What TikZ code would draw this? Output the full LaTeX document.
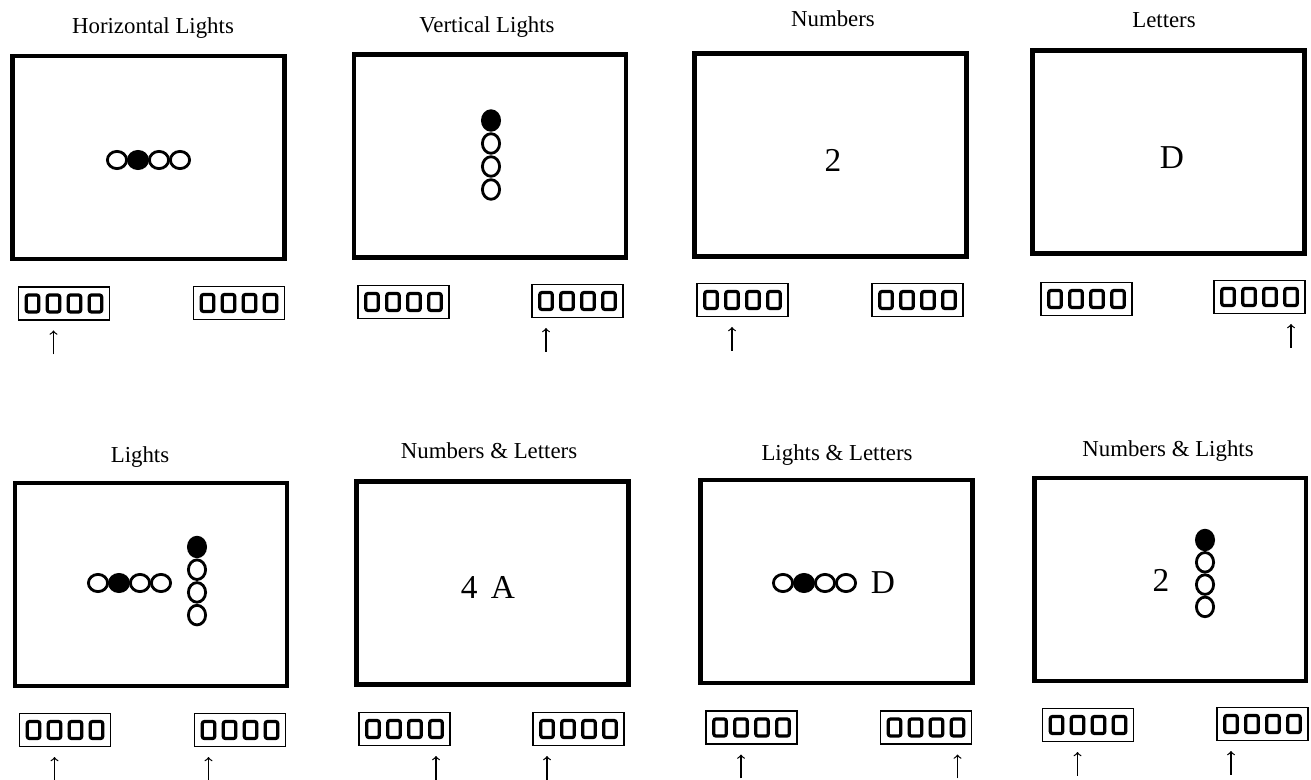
\documentclass[tikz,border=0pt]{standalone}
\usepackage{fontspec}
\setmainfont{Liberation Serif}
\begin{document}
\begin{tikzpicture}[x=0.02cm, y=-0.02cm,
    painel/.style={draw, line width=2.8pt, minimum width=5.44cm, minimum height=4.06cm, inner sep=0pt},
    titulo/.style={anchor=base, font=\fontsize{13}{15}\selectfont},
    grande/.style={font=\fontsize{19}{22}\selectfont, inner sep=0pt},
    caixa/.style={draw, line width=0.75pt, minimum width=1.82cm, minimum height=0.66cm, inner sep=0pt},
    tecla/.style={draw, line width=1.8pt, rounded corners=1.2pt, minimum width=0.25cm, minimum height=0.34cm, inner sep=0pt, outer sep=0pt},
    luz/.style={line width=1.6pt},
    acesa/.style={luz, fill=black},
    seta/.style={->, line width=0.7pt, shorten >=0.37cm}]

    \useasboundingbox (0,0) rectangle (1311,780);

    % --- Painel 1: Horizontal Lights ---
    \begin{scope}[shift={(148.5,157.5)}]
        \node[painel] (p1) at (0,0) {};
        \node[titulo] (tit1) at (4.5,-124.2) {Horizontal Lights};

        % Luzes horizontais
        \foreach \i in {0,2,3} \draw[luz] ({-31.5+21*\i},2.5) ellipse (9.6 and 8.6);
        \draw[acesa] (-10.5,2.5) ellipse (9.6 and 8.6);

        % Teclados
        \node[caixa] (c1e) at (-84.5,146) {};
        \foreach \k in {1,...,4} \node[tecla] (c1e\k) at ({-84.5+21*(\k-2.5)},146) {};
        \node[caixa] (c1d) at (90.5,145.5) {};
        \foreach \k in {1,...,4} \node[tecla] (c1d\k) at ({90.5+21*(\k-2.5)},145.5) {};

        % Seta
        \coordinate (s1e) at ([yshift=-1.02cm]c1e2);
        \draw[seta] (s1e) -- (c1e2);
    \end{scope}

    % --- Painel 2: Vertical Lights ---
    \begin{scope}[shift={(490,156)}]
        \node[painel] (p2) at (0,0) {};
        \node[titulo] (tit2) at (-3,-123.3) {Vertical Lights};

        % Luzes verticais
        \draw[acesa] (1,-35.5) ellipse (8.6 and 9.8);
        \foreach \i in {1,2,3} \draw[luz] (1,{-35.5+23*\i}) ellipse (8.6 and 9.8);

        % Teclados
        \node[caixa] (c2e) at (-86.5,146) {};
        \foreach \k in {1,...,4} \node[tecla] (c2e\k) at ({-86.5+21*(\k-2.5)},146) {};
        \node[caixa] (c2d) at (87.5,145) {};
        \foreach \k in {1,...,4} \node[tecla] (c2d\k) at ({87.5+21*(\k-2.5)},145) {};

        % Seta
        \coordinate (s2d) at ([yshift=-1.02cm]c2d1);
        \draw[seta] (s2d) -- (c2d1);
    \end{scope}

    % --- Painel 3: Numbers ---
    \begin{scope}[shift={(830.5,155)}]
        \node[painel] (p3) at (0,0) {};
        \node[titulo] (tit3) at (2.5,-128.3) {Numbers};
        \node[grande] (txt3) at (2.5,5) {2};

        % Teclados
        \node[caixa] (c3e) at (-88,145) {};
        \foreach \k in {1,...,4} \node[tecla] (c3e\k) at ({-88+21*(\k-2.5)},145) {};
        \node[caixa] (c3d) at (87,145) {};
        \foreach \k in {1,...,4} \node[tecla] (c3d\k) at ({87+21*(\k-2.5)},145) {};

        % Seta
        \coordinate (s3e) at ([yshift=-1.02cm]c3e2);
        \draw[seta] (s3e) -- (c3e2);
    \end{scope}

    % --- Painel 4: Letters ---
    \begin{scope}[shift={(1168.5,152)}]
        \node[painel] (p4) at (0,0) {};
        \node[titulo] (tit4) at (-4.5,-124.7) {Letters};
        \node[grande] (txt4) at (3.5,6) {D};

        % Teclados
        \node[caixa] (c4e) at (-82,147) {};
        \foreach \k in {1,...,4} \node[tecla] (c4e\k) at ({-82+21*(\k-2.5)},147) {};
        \node[caixa] (c4d) at (91,145) {};
        \foreach \k in {1,...,4} \node[tecla] (c4d\k) at ({91+21*(\k-2.5)},145) {};

        % Seta
        \coordinate (s4d) at ([yshift=-1.02cm]c4d4);
        \draw[seta] (s4d) -- (c4d4);
    \end{scope}

    % --- Painel 5: Lights ---
    \begin{scope}[shift={(151,584.5)}]
        \node[painel] (p5) at (0,0) {};
        \node[titulo] (tit5) at (-11,-121.8) {Lights};

        % Luzes horizontais e verticais
        \foreach \i in {0,2,3} \draw[luz] ({-53+21*\i},-1.5) ellipse (9.6 and 8.6);
        \draw[acesa] (-32,-1.5) ellipse (9.6 and 8.6);
        \draw[acesa] (46,-37.5) ellipse (8.6 and 9.8);
        \foreach \i in {1,2,3} \draw[luz] (46,{-37.5+22.7*\i}) ellipse (8.6 and 9.8);

        % Teclados
        \node[caixa] (c5e) at (-86,145.5) {};
        \foreach \k in {1,...,4} \node[tecla] (c5e\k) at ({-86+21*(\k-2.5)},145.5) {};
        \node[caixa] (c5d) at (89,145.5) {};
        \foreach \k in {1,...,4} \node[tecla] (c5d\k) at ({89+21*(\k-2.5)},145.5) {};

        % Setas
        \coordinate (s5e) at ([yshift=-1.02cm]c5e2);
        \draw[seta] (s5e) -- (c5e2);
        \coordinate (s5d) at ([yshift=-1.02cm]c5d1);
        \draw[seta] (s5d) -- (c5d1);
    \end{scope}

    % --- Painel 6: Numbers & Letters ---
    \begin{scope}[shift={(492.5,583)}]
        \node[painel] (p6) at (0,0) {};
        \node[titulo] (tit6) at (-3.5,-124.7) {Numbers \& Letters};
        \node[grande] (txt6) at (-4.5,4) {4\hspace{0.4em}A};

        % Teclados
        \node[caixa] (c6e) at (-88,146) {};
        \foreach \k in {1,...,4} \node[tecla] (c6e\k) at ({-88+21*(\k-2.5)},146) {};
        \node[caixa] (c6d) at (86,146) {};
        \foreach \k in {1,...,4} \node[tecla] (c6d\k) at ({86+21*(\k-2.5)},146) {};

        % Setas
        \coordinate (s6e) at ([yshift=-1.02cm]c6e4);
        \draw[seta] (s6e) -- (c6e4);
        \coordinate (s6d) at ([yshift=-1.02cm]c6d1);
        \draw[seta] (s6d) -- (c6d1);
    \end{scope}

    % --- Painel 7: Lights & Letters ---
    \begin{scope}[shift={(836.5,581.5)}]
        \node[painel] (p7) at (0,0) {};
        \node[titulo] (tit7) at (0.5,-121.5) {Lights \& Letters};
        \node[grande] (txt7) at (46.5,1.5) {D};

        % Luzes horizontais
        \foreach \i in {0,2,3} \draw[luz] ({-53.5+21*\i},1.5) ellipse (9.6 and 8.6);
        \draw[acesa] (-32.5,1.5) ellipse (9.6 and 8.6);

        % Teclados
        \node[caixa] (c7e) at (-85,146) {};
        \foreach \k in {1,...,4} \node[tecla] (c7e\k) at ({-85+21*(\k-2.5)},146) {};
        \node[caixa] (c7d) at (89.5,146) {};
        \foreach \k in {1,...,4} \node[tecla] (c7d\k) at ({89.5+21*(\k-2.5)},146) {};

        % Setas
        \coordinate (s7e) at ([yshift=-1.02cm]c7e2);
        \draw[seta] (s7e) -- (c7e2);
        \coordinate (s7d) at ([yshift=-1.02cm]c7d4);
        \draw[seta] (s7d) -- (c7d4);
    \end{scope}

    % --- Painel 8: Numbers & Lights ---
    \begin{scope}[shift={(1170,579.5)}]
        \node[painel] (p8) at (0,0) {};
        \node[titulo] (tit8) at (-2,-123.5) {Numbers \& Lights};
        \node[grande] (txt8) at (-9,0.5) {2};

        % Luzes verticais
        \draw[acesa] (35,-39.5) ellipse (8.6 and 9.8);
        \foreach \i in {1,2,3} \draw[luz] (35,{-39.5+22.3*\i}) ellipse (8.6 and 9.8);

        % Teclados
        \node[caixa] (c8e) at (-82,145.5) {};
        \foreach \k in {1,...,4} \node[tecla] (c8e\k) at ({-82+21*(\k-2.5)},145.5) {};
        \node[caixa] (c8d) at (92.5,144.5) {};
        \foreach \k in {1,...,4} \node[tecla] (c8d\k) at ({92.5+21*(\k-2.5)},144.5) {};

        % Setas
        \coordinate (s8e) at ([yshift=-1.02cm]c8e2);
        \draw[seta] (s8e) -- (c8e2);
        \coordinate (s8d) at ([yshift=-1.02cm]c8d1);
        \draw[seta] (s8d) -- (c8d1);
    \end{scope}

\end{tikzpicture}
\end{document}
